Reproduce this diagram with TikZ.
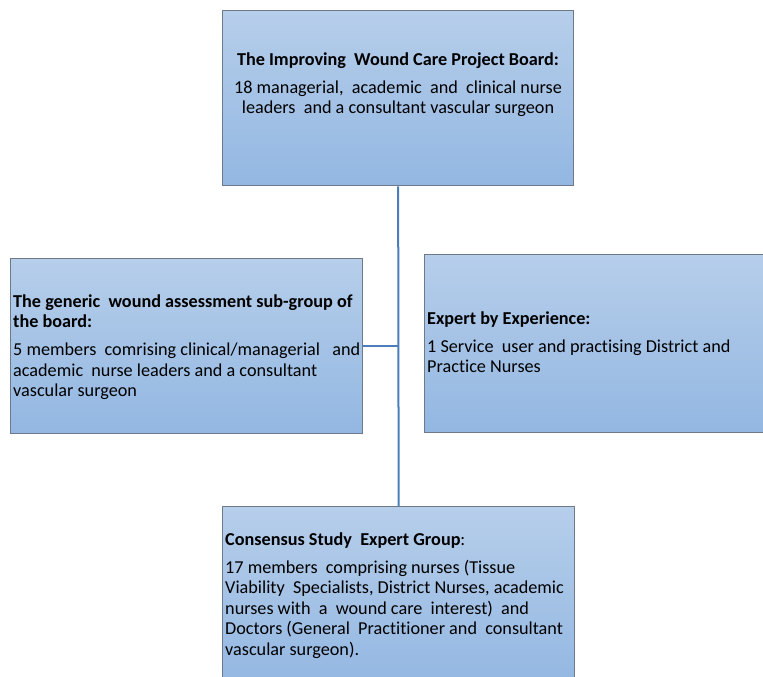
\documentclass[tikz,border=0pt]{standalone}
\usepackage{fontspec}
\setmainfont[Ligatures=NoCommon]{Carlito}
\definecolor{boxtop}{HTML}{B6CEEA}
\definecolor{boxbot}{HTML}{93B7E2}
\definecolor{boxline}{HTML}{6E7A8A}
\definecolor{connline}{HTML}{4A7EBB}
\tikzset{
  orgbox/.style={draw=boxline, line width=1.3pt, top color=boxtop, bottom color=boxbot,
    inner sep=0pt, anchor=north west},
  boxtext/.style={inner sep=0pt, font=\fontsize{18.2}{20.5}\selectfont, text=black},
  conn/.style={draw=connline, line width=2pt}
}
\begin{document}
\begin{tikzpicture}[x=1pt,y=-1pt]
\useasboundingbox (0,0) rectangle (763,677);
\begin{scope}
\clip (0,0) rectangle (763,677);
\node[orgbox, minimum width=351pt, minimum height=175pt] (board) at (222,10) {};
\node[orgbox, minimum width=352pt, minimum height=175pt] (sub) at (10,258) {};
\node[orgbox, minimum width=345pt, minimum height=178pt] (expert) at (424,254) {};
\node[orgbox, minimum width=352pt, minimum height=180pt] (consensus) at (222,506) {};
\draw[conn] (board.south) -- (consensus.north);
\draw[conn] (sub.east) -- (sub.east -| board.south);
\end{scope}
\node[boxtext, align=center, anchor=north] (boardtext) at (398,50.65)
  {\strut\textbf{The Improving\ \ Wound\ Care Project Board:}\\[7.5pt]
   18 managerial,\ \ academic\ \ and\ \ clinical nurse\\
   leaders\ \ and a consultant vascular surgeon};
\node[boxtext, align=left, anchor=north west] (subtext) at (13,292.65)
  {\strut\textbf{The generic\ \ wound assessment sub-group of}\\
   \textbf{the board:}\\[7.5pt]
   5 members\ \ comrising clinical/managerial\ \ \ and\\
   academic\ \ nurse leaders\ and\ a consultant\\
   vascular surgeon};
\node[boxtext, align=left, anchor=north west] (experttext) at (427,309.65)
  {\strut\textbf{Expert by Experience:}\\[7.5pt]
   1 Service\ \ user and practising District and\\
   Practice Nurses};
\node[boxtext, align=left, anchor=north west] (consensustext) at (225,530.65)
  {\strut\textbf{Consensus Study\ \ Expert Group}:\\[7.5pt]
   17 members\ \ comprising nurses (Tissue\\
   Viability\ \ Specialists, District Nurses, academic\\
   nurses with\ \ a\ \ wound care\ \ interest)\ \ and\\
   Doctors (General\ \ Practitioner and\ \ consultant\\
   vascular surgeon).};
\end{tikzpicture}
\end{document}
